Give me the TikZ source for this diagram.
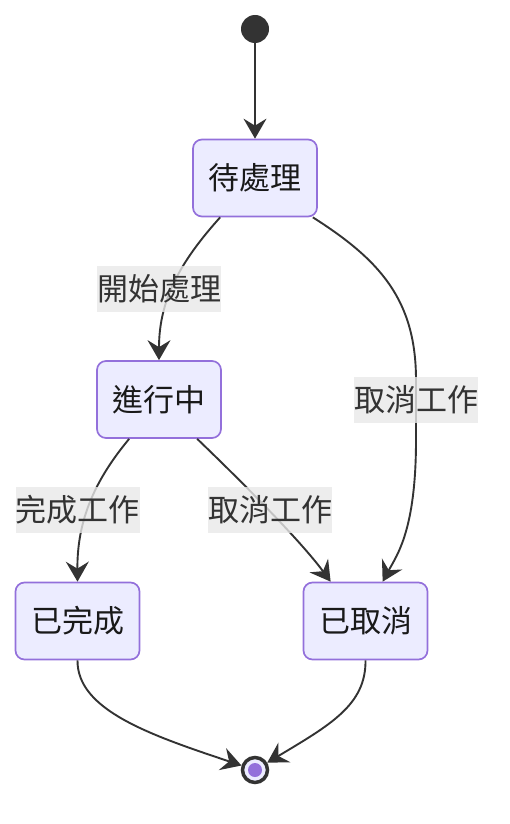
\documentclass[tikz,border=0pt]{standalone}
\usepackage{fontspec}
\setmainfont{Noto Sans CJK TC}
\usetikzlibrary{arrows.meta}
\definecolor{nodefill}{HTML}{ECECFF}
\definecolor{nodeline}{HTML}{9370DB}
\definecolor{edgecol}{HTML}{333333}
\definecolor{lblfill}{HTML}{E8E8E8}
\begin{document}
\begin{tikzpicture}[x=1pt,y=-1pt,
  state/.style={draw=nodeline, fill=nodefill, line width=1.7pt, rounded corners=9pt,
    minimum width=124pt, minimum height=77pt, inner sep=0pt,
    font=\fontsize{31}{37}\selectfont, text=black!90},
  elabel/.style={fill=lblfill, fill opacity=0.8, text opacity=1, text=edgecol,
    minimum width=124pt, minimum height=46pt, inner sep=0pt,
    font=\fontsize{31}{37}\selectfont},
  trans/.style={draw=edgecol, line width=1.9pt,
    -{Stealth[length=20pt,width=23pt,inset=7pt]}},
  startdot/.style={circle, fill=edgecol, minimum size=28pt, inner sep=0pt},
  enddot/.style={circle, draw=edgecol, line width=3.5pt, fill=nodefill, minimum size=25pt, inner sep=0pt}
]
\useasboundingbox (0,0) rectangle (510,824);
\node[startdot] (start) at (255,29) {};
\node[state] (s1) at (255,178) {待處理};
\node[state] (s2) at (159,399.5) {進行中};
\node[state] (s3) at (77.5,621) {已完成};
\node[state] (s5) at (365.5,621) {已取消};
\node[enddot] (fin) at (255,770) {};
\fill[nodeline] (fin.center) circle (7pt);

\draw[trans] (start) -- (s1);
\draw[trans] ([xshift=28pt]s1.south west) .. controls (180,262) and (159,300) .. (s2.north);
\draw[trans] ([xshift=-5pt]s1.south east) .. controls (380,260) and (416,300) .. (416,380)
  -- (416,440) .. controls (416,530) and (397,555) .. ([xshift=80pt]s5.north west);
\draw[trans] ([xshift=33pt]s2.south west) .. controls (95,480) and (77,520) .. (s3.north);
\draw[trans] ([xshift=101pt]s2.south west) .. controls (240,480) and (300,540) .. ([xshift=28pt]s5.north west);
\draw[trans] (s3.south) .. controls (77,710) and (150,735) .. (fin);
\draw[trans] (s5.south) .. controls (366,705) and (330,725) .. (fin);

\node[elabel] (l1) at (159,289) {開始處理};
\node[elabel] (l2) at (416,400) {取消工作};
\node[elabel] (l3) at (77.5,510) {完成工作};
\node[elabel] (l4) at (270,510) {取消工作};
\end{tikzpicture}
\end{document}
